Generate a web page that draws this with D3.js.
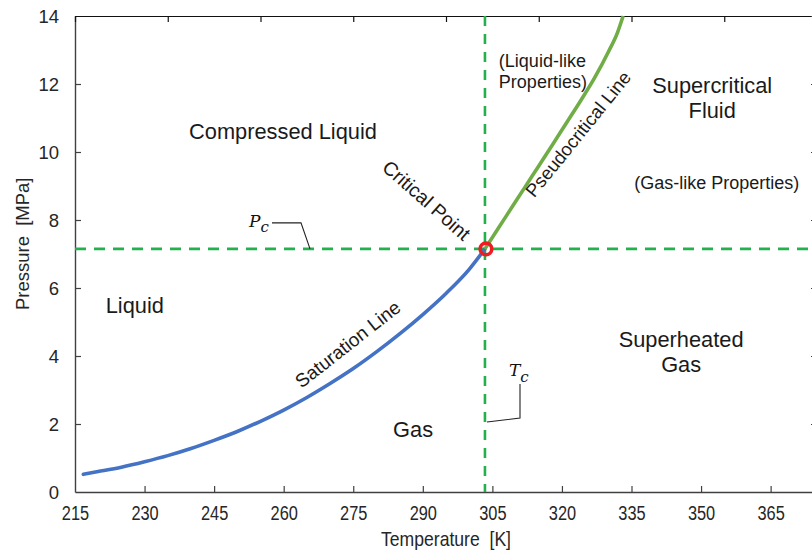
<!DOCTYPE html>
<html>
<head>
<meta charset="utf-8">
<script src="https://cdn.jsdelivr.net/npm/d3@7"></script>
<style>
  html, body { margin: 0; padding: 0; background: #fff; }
  svg { display: block; }
  .lbl { font-family: "Liberation Sans", Arial, sans-serif; fill: #1a1a1a; }
  .tick text { font-family: "Liberation Sans Narrow", "Arial Narrow", "Liberation Sans", sans-serif; fill: #262626; }
</style>
</head>
<body>
<svg id="chart" width="812" height="552"></svg>
<script>
// CO2 phase diagram: saturation curve, pseudocritical line and critical point

// Saturation (vapour pressure) line: temperature [K], pressure [MPa]
const satT = [216.8, 220, 225, 230, 235, 240, 245, 250, 255, 260, 265, 270, 275, 280, 285, 290, 295, 300, 303.4];
const satP = [0.52, 0.60, 0.73, 0.89, 1.07, 1.28, 1.52, 1.78, 2.08, 2.41, 2.78, 3.19, 3.63, 4.12, 4.65, 5.22, 5.84, 6.55, 7.15];

// Pseudocritical line beyond the critical point
const pseT = [303.4, 306, 309, 312, 315, 318, 321, 324, 327, 330, 332, 333.2];
const pseP = [7.15, 7.70, 8.33, 8.96, 9.59, 10.22, 10.86, 11.50, 12.17, 12.94, 13.52, 14.0];

// Critical point
const Tc = 303.4;
const Pc = 7.15;

// Axis ranges and ticks
const xDomain = [215, 375];
const yDomain = [0, 14];
const xTicks = [215, 230, 245, 260, 275, 290, 305, 320, 335, 350, 365];
const yTicks = [0, 2, 4, 6, 8, 10, 12, 14];
const topDivisions = 8;

// Region labels: [text, T, P, anchor, size]
const regionLabels = [
  ["Compressed Liquid", 259.85, 10.38, "middle", 21.8],
  ["Liquid", 227.9, 5.26, "middle", 21.8],
  ["Gas", 287.9, 1.62, "middle", 21.8],
  ["Supercritical", 352.4, 11.74, "middle", 21.8],
  ["Fluid", 352.4, 10.99, "middle", 21.8],
  ["Superheated", 345.7, 4.26, "middle", 21.8],
  ["Gas", 345.7, 3.53, "middle", 21.8],
  ["(Gas-like Properties)", 353.4, 8.91, "middle", 18],
  ["(Liquid-like", 306.4, 12.50, "start", 18],
  ["Properties)", 306.4, 11.87, "start", 18]
];

// Labels running along the curves: [text, T, P, angle, size]
const curveLabels = [
  ["Saturation Line", 273.8, 4.35, -38, 19],
  ["Critical Point", 290.8, 8.58, 41.5, 19.5],
  ["Pseudocritical Line", 323.5, 10.53, -51, 18.5]
];

const svg = d3.select("#chart");
const margin = { left: 75, right: -5, top: 16, bottom: 60 };
const W = 812, H = 552;

const x = d3.scaleLinear().domain(xDomain).range([margin.left, W - margin.right]);
const y = d3.scaleLinear().domain(yDomain).range([H - margin.bottom, margin.top]);
const xTop = d3.scaleLinear().domain([0, topDivisions]).range(x.range());

const axisColor = "#404040";
const narrow = 0.84; // horizontal condensing of the tick labels

// Bottom axis
const gx = svg.append("g")
  .attr("transform", `translate(0,${y(0)})`)
  .call(d3.axisBottom(x).tickValues(xTicks).tickSizeInner(-6).tickSizeOuter(0).tickPadding(14));
// Left axis
const gy = svg.append("g")
  .attr("transform", `translate(${x(215)},0)`)
  .call(d3.axisLeft(y).tickValues(yTicks).tickSizeInner(-6).tickSizeOuter(0).tickPadding(16));
// Top frame with its own division ticks
const gt = svg.append("g")
  .attr("transform", `translate(0,${y(14)})`)
  .call(d3.axisTop(xTop).ticks(topDivisions).tickSizeInner(-6).tickSizeOuter(0).tickFormat(""));
// Right frame
const gr = svg.append("g")
  .attr("transform", `translate(${x(375)},0)`)
  .call(d3.axisRight(y).tickValues(yTicks).tickSizeInner(-6).tickSizeOuter(0).tickFormat(""));

[gx, gy, gt, gr].forEach(g => {
  g.select(".domain").attr("stroke", axisColor).attr("stroke-width", 1.4);
  g.selectAll(".tick line").attr("stroke", axisColor).attr("stroke-width", 1.2);
});
gt.select(".domain").attr("stroke", "#111").attr("stroke-width", 1.2);
gt.selectAll(".tick line").attr("stroke", "#111");
gx.selectAll(".tick text").attr("font-size", 19.5).attr("transform", `scale(${narrow},1)`);
gy.selectAll(".tick text").attr("font-size", 18.5).attr("dy", "0.36em");
gx.selectAll(".tick").filter(d => d === 215).select("line").remove();
gy.selectAll(".tick").filter(d => d === 0 || d === 14).select("line").remove();

// Axis titles
svg.append("text")
  .attr("transform", `translate(446,546) scale(0.88,1)`)
  .attr("text-anchor", "middle")
  .attr("font-family", "\"Liberation Sans Narrow\", \"Arial Narrow\", \"Liberation Sans\", sans-serif")
  .attr("font-size", 20).attr("fill", "#262626")
  .attr("xml:space", "preserve")
  .text("Temperature  [K]");
svg.append("text")
  .attr("transform", `translate(29,${y(7.3)}) rotate(-90)`)
  .attr("text-anchor", "middle")
  .attr("font-family", "\"Liberation Sans\", Arial, sans-serif")
  .attr("font-size", 18.5).attr("fill", "#262626")
  .attr("xml:space", "preserve")
  .text("Pressure  [MPa]");

// Critical isobar and isotherm
const green = "#22b14c";
svg.append("line")
  .attr("x1", x(215)).attr("x2", x(375))
  .attr("y1", y(Pc)).attr("y2", y(Pc))
  .attr("stroke", green).attr("stroke-width", 2.6).attr("stroke-dasharray", "11,8");
svg.append("line")
  .attr("x1", x(Tc)).attr("x2", x(Tc))
  .attr("y1", y(14)).attr("y2", y(0))
  .attr("stroke", green).attr("stroke-width", 2.6).attr("stroke-dasharray", "10,8");

// Curves
const line = d3.line().x(d => x(d[0])).y(d => y(d[1])).curve(d3.curveMonotoneX);
svg.append("path")
  .datum(satT.map((t, i) => [t, satP[i]]))
  .attr("d", line)
  .attr("fill", "none").attr("stroke", "#4472c4").attr("stroke-width", 3.6).attr("stroke-linecap", "round");
svg.append("path")
  .datum(pseT.map((t, i) => [t, pseP[i]]))
  .attr("d", line)
  .attr("fill", "none").attr("stroke", "#70ad47").attr("stroke-width", 3.6);

// Critical point marker
svg.append("circle")
  .attr("cx", x(Tc) + 1).attr("cy", y(Pc))
  .attr("r", 5.8)
  .attr("fill", "none").attr("stroke", "#ee1c24").attr("stroke-width", 3.6);

// Pc and Tc callouts
const serif = "\"DejaVu Serif\", \"Liberation Serif\", serif";
const pcLabel = svg.append("text").attr("x", 249).attr("y", 227)
  .attr("font-family", serif).attr("font-style", "italic").attr("font-size", 17).attr("fill", "#111");
pcLabel.append("tspan").text("P");
pcLabel.append("tspan").attr("font-size", 15).attr("dy", 5).text("c");
svg.append("path")
  .attr("d", `M272,${y(Pc) - 26}H301L${310},${y(Pc)}`)
  .attr("fill", "none").attr("stroke", "#222").attr("stroke-width", 1.1);

const tcLabel = svg.append("text").attr("x", 509).attr("y", 376)
  .attr("font-family", serif).attr("font-style", "italic").attr("font-size", 17).attr("fill", "#111");
tcLabel.append("tspan").text("T");
tcLabel.append("tspan").attr("font-size", 15).attr("dy", 6).text("c");
svg.append("path")
  .attr("d", `M520,384V418L${x(Tc) + 2},422`)
  .attr("fill", "none").attr("stroke", "#222").attr("stroke-width", 1.1);

// Region labels
svg.selectAll("text.region")
  .data(regionLabels)
  .join("text")
  .attr("class", "lbl region")
  .attr("x", d => x(d[1])).attr("y", d => y(d[2]))
  .attr("text-anchor", d => d[3])
  .attr("font-size", d => d[4])
  .text(d => d[0]);

// Labels along curves
svg.selectAll("text.along")
  .data(curveLabels)
  .join("text")
  .attr("class", "lbl along")
  .attr("transform", d => `translate(${x(d[1])},${y(d[2])}) rotate(${d[3]})`)
  .attr("text-anchor", "middle")
  .attr("dy", "0.35em")
  .attr("font-size", d => d[4])
  .text(d => d[0]);
</script>
</body>
</html>
